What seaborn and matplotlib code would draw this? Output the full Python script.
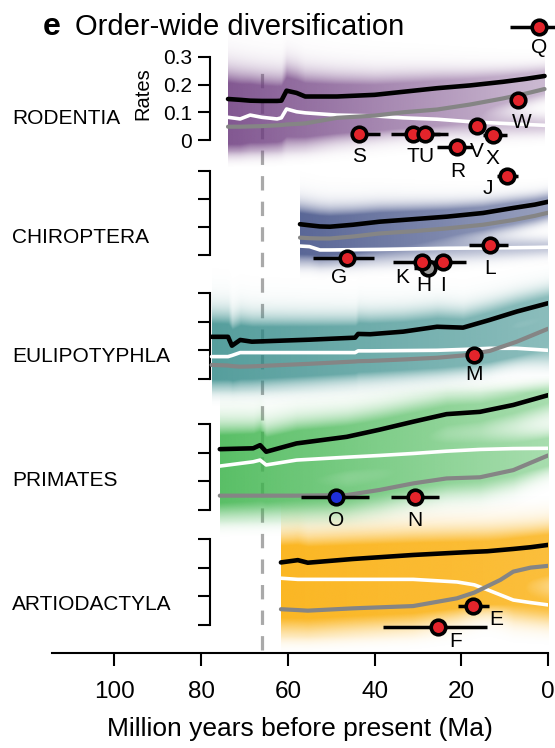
import numpy as np
import matplotlib
matplotlib.use("Agg")
import matplotlib.pyplot as plt
from matplotlib.colors import to_rgb
import seaborn as sns

sns.set_theme(style="white")
plt.rcParams["font.family"] = ["Liberation Sans", "DejaVu Sans"]
plt.rcParams["text.color"] = "black"
plt.rcParams["axes.labelcolor"] = "black"
plt.rcParams["xtick.color"] = "black"
plt.rcParams["ytick.color"] = "black"

# ------------------------------------------------------------------ data
x_ticks = [100, 80, 60, 40, 20, 0]
rate_ticks = [0, 0.1, 0.2, 0.3]
kpg_age = 66.0

# Rodentia: speciation (black), net diversification (white), extinction (grey)
rod_ages = [73.8, 71.0, 68.7, 66.0, 62.5, 61.5, 60.3, 58.0, 56.0, 48.7, 40.0, 33.4, 25.6, 18.0, 10.4, 5.0, 0.8]
rod_spec = [0.148, 0.145, 0.142, 0.141, 0.141, 0.142, 0.178, 0.170, 0.157, 0.157, 0.163, 0.174, 0.187, 0.197, 0.210, 0.221, 0.231]
rod_net = [0.082, 0.076, 0.090, 0.082, 0.076, 0.080, 0.112, 0.102, 0.098, 0.090, 0.087, 0.080, 0.075, 0.066, 0.060, 0.056, 0.053]
rod_ext = [0.048, 0.048, 0.049, 0.050, 0.053, 0.054, 0.056, 0.058, 0.060, 0.080, 0.088, 0.100, 0.110, 0.128, 0.150, 0.168, 0.184]

chi_ages = [57.2, 55.0, 52.6, 50.3, 45.0, 38.8, 31.0, 23.3, 15.0, 8.0, 3.0, 0.0]
chi_spec = [0.110, 0.106, 0.102, 0.101, 0.108, 0.119, 0.128, 0.137, 0.150, 0.168, 0.180, 0.190]
chi_net = [0.032, 0.030, 0.018, 0.018, 0.019, 0.020, 0.022, 0.024, 0.025, 0.026, 0.027, 0.028]
chi_ext = [0.062, 0.060, 0.059, 0.059, 0.066, 0.077, 0.085, 0.095, 0.108, 0.125, 0.140, 0.151]

eul_ages = [77.6, 73.8, 72.9, 71.0, 68.3, 55.0, 44.5, 43.8, 41.0, 33.4, 25.6, 19.6, 13.4, 7.2, 0.0]
eul_spec = [0.147, 0.147, 0.116, 0.136, 0.130, 0.137, 0.144, 0.157, 0.156, 0.165, 0.182, 0.179, 0.206, 0.235, 0.264]
eul_net = [0.078, 0.078, 0.082, 0.092, 0.092, 0.092, 0.092, 0.098, 0.098, 0.099, 0.100, 0.103, 0.107, 0.107, 0.100]
eul_ext = [0.049, 0.047, 0.045, 0.043, 0.044, 0.053, 0.061, 0.062, 0.063, 0.068, 0.074, 0.082, 0.098, 0.130, 0.175]

pri_ages = [75.7, 68.0, 66.4, 65.0, 58.0, 46.4, 38.8, 31.0, 23.4, 15.7, 8.0, 0.0]
pri_spec = [0.212, 0.215, 0.226, 0.203, 0.232, 0.255, 0.280, 0.308, 0.334, 0.342, 0.366, 0.400]
pri_net = [0.153, 0.168, 0.174, 0.157, 0.174, 0.184, 0.190, 0.197, 0.205, 0.211, 0.214, 0.215]
pri_ext = [0.050, 0.050, 0.050, 0.050, 0.050, 0.052, 0.070, 0.093, 0.110, 0.114, 0.139, 0.190]

art_ages = [61.6, 57.7, 55.4, 45.0, 31.1, 21.0, 17.0, 14.0, 11.0, 8.0, 4.0, 0.0]
art_spec = [0.218, 0.226, 0.217, 0.230, 0.244, 0.252, 0.255, 0.257, 0.261, 0.265, 0.271, 0.279]
art_net = [0.163, 0.159, 0.159, 0.159, 0.159, 0.150, 0.140, 0.123, 0.105, 0.087, 0.078, 0.070]
art_ext = [0.055, 0.052, 0.050, 0.058, 0.066, 0.093, 0.113, 0.135, 0.157, 0.186, 0.200, 0.206]

# Point estimates from other studies: label, age, rate, age interval (young, old)
rod_pt_lab = ["Q", "W", "S", "T", "U", "R", "V", "X", "J"]
rod_pt_age = [2.0, 6.85, 43.5, 31.1, 28.4, 20.9, 16.3, 12.8, 9.4]
rod_pt_rate = [0.409, 0.144, 0.022, 0.022, 0.022, -0.024, 0.050, 0.018, -0.130]
rod_pt_young = [-1.6, 6.85, 38.8, 25.0, 23.1, 17.3, 16.3, 9.5, 7.0]
rod_pt_old = [8.8, 6.85, 43.5, 36.2, 33.0, 25.7, 16.3, 15.0, 11.8]

chi_pt_lab = ["H", "G", "K", "I", "L"]
chi_pt_age = [27.6, 46.4, 29.1, 24.2, 13.4]
chi_pt_rate = [-0.045, -0.010, -0.024, -0.024, 0.036]
chi_pt_young = [27.6, 40.1, 25.8, 18.8, 9.2]
chi_pt_old = [31.0, 54.1, 35.8, 28.8, 18.2]

eul_pt_lab = ["M"]
eul_pt_age = [17.0]
eul_pt_rate = [0.084]
eul_pt_young = [17.0]
eul_pt_old = [17.0]

pri_pt_lab = ["O", "N"]
pri_pt_age = [48.9, 30.7]
pri_pt_rate = [0.044, 0.044]
pri_pt_young = [41.3, 25.2]
pri_pt_old = [56.9, 36.2]

art_pt_lab = ["E", "F"]
art_pt_age = [17.2, 25.3]
art_pt_rate = [0.066, -0.008]
art_pt_young = [13.7, 14.0]
art_pt_old = [20.7, 38.0]

# ------------------------------------------------------------------ style
W, H = 555, 748
AX_X0, AX_X1 = 52, 548
AGE_LEFT = 114.4
SPINE_AGE = 78.0

point_fill = {"H": "#9b9b9b", "O": "#1f2fd8"}
label_shift = {  # pixel offsets of the letter from its point (right, down)
    "Q": (0, 21), "W": (3, 22), "S": (0, 23), "T": (0, 23), "U": (1, 23),
    "R": (0, 25), "V": (0, 25), "X": (0, 23), "J": (-19, 12),
    "G": (-8, 20), "K": (-20, 16), "H": (-5, 18), "I": (0, 24), "L": (0, 24),
    "M": (0, 20), "O": (0, 23), "N": (0, 23), "E": (23, 13), "F": (17, 14),
}

panels = [
    dict(name="RODENTIA", color="#6c3a7e", y0=140, s=277, label_y=118,
         ages=rod_ages, spec=rod_spec, net=rod_net, ext=rod_ext,
         pts=(rod_pt_lab, rod_pt_age, rod_pt_rate, rod_pt_young, rod_pt_old),
         sig=(0.065, 0.025), amax=(0.85, 0.35), wnet=0.8, haze=0.2),
    dict(name="CHIROPTERA", color="#30407c", y0=255, s=280, label_y=237,
         ages=chi_ages, spec=chi_spec, net=chi_net, ext=chi_ext,
         pts=(chi_pt_lab, chi_pt_age, chi_pt_rate, chi_pt_young, chi_pt_old),
         sig=(0.045, 0.022), amax=(0.8, 0.5), wnet=0.6, haze=0.15),
    dict(name="EULIPOTYPHLA", color="#2b8684", y0=379, s=287, label_y=357,
         ages=eul_ages, spec=eul_spec, net=eul_net, ext=eul_ext,
         pts=(eul_pt_lab, eul_pt_age, eul_pt_rate, eul_pt_young, eul_pt_old),
         sig=(0.055, 0.035), amax=(0.8, 0.55), wnet=0.8, haze=0.2),
    dict(name="PRIMATES", color="#3cb44b", y0=510, s=287, label_y=480,
         ages=pri_ages, spec=pri_spec, net=pri_net, ext=pri_ext,
         pts=(pri_pt_lab, pri_pt_age, pri_pt_rate, pri_pt_young, pri_pt_old),
         sig=(0.055, 0.04), amax=(0.85, 0.45), wnet=1.0, haze=0.2),
    dict(name="ARTIODACTYLA", color="#fbb318", y0=625, s=287, label_y=605,
         ages=art_ages, spec=art_spec, net=art_net, ext=art_ext,
         pts=(art_pt_lab, art_pt_age, art_pt_rate, art_pt_young, art_pt_old),
         sig=(0.06, 0.045), amax=(0.95, 0.85), wnet=1.0, haze=0.25),
]


def px_rect(x0, y0, x1, y1):
    return [x0 / W, 1 - y1 / H, (x1 - x0) / W, (y1 - y0) / H]


def density_rgba(p, r_grid):
    ages = np.asarray(p["ages"], float)
    t = np.linspace(ages[0], ages[-1], 480)
    xp = ages[::-1]
    sp = np.interp(t, xp, np.asarray(p["spec"])[::-1])
    nt = np.interp(t, xp, np.asarray(p["net"])[::-1])
    ex = np.interp(t, xp, np.asarray(p["ext"])[::-1])
    frac = (t - ages[-1]) / (ages[0] - ages[-1])
    s = p["sig"][1] + (p["sig"][0] - p["sig"][1]) * frac
    a = p["amax"][1] + (p["amax"][0] - p["amax"][1]) * frac
    R = r_grid[:, None]

    def bump(c, w):
        return np.exp(-0.5 * ((R - c) / w) ** 2)

    dens = bump(sp, s) + bump(ex, s) + p["wnet"] * bump(nt, s) + p["haze"] * bump(sp, 1.6 * s)
    # fade out towards the ends of the rate grid
    span = 0.06
    taper = np.clip((R - r_grid[0]) / span, 0, 1) * np.clip((r_grid[-1] - R) / span, 0, 1)
    rgba = np.zeros((len(r_grid), len(t), 4))
    rgba[..., :3] = to_rgb(p["color"])
    rgba[..., 3] = a * np.clip(dens, 0, 1) * taper
    return rgba


fig = plt.figure(figsize=(W / 100, H / 100), dpi=100)

# shared time axis with the K-Pg boundary
base = fig.add_axes(px_rect(AX_X0, 60, AX_X1, 653), zorder=0)
base.set_xlim(AGE_LEFT, 0)
base.set_ylim(0, 1)
base.patch.set_visible(False)
for sp in ("left", "right", "top"):
    base.spines[sp].set_visible(False)
base.spines["bottom"].set_color("black")
base.spines["bottom"].set_linewidth(1.5)
base.set_yticks([])
base.set_xticks(x_ticks)
base.set_xticklabels([str(v) for v in x_ticks], fontsize=17.5)
base.tick_params(axis="x", bottom=True, length=9.5, width=1.5, pad=11, color="black")
base.set_xlabel("Million years before present (Ma)", fontsize=19, labelpad=10)
base.axvline(kpg_age, ymin=0.005, ymax=0.99, color="#a9a9a9", lw=2.3,
             ls=(0, (4.5, 3.5)), zorder=0)

r_grid = np.linspace(-0.1, 0.47, 380)
for i, p in enumerate(panels):
    lo, hi = -0.3, 0.5
    ax = fig.add_axes(px_rect(AX_X0, p["y0"] - hi * p["s"], AX_X1, p["y0"] - lo * p["s"]),
                      zorder=10 - i)
    ax.patch.set_visible(False)

    ax.imshow(density_rgba(p, r_grid), extent=[p["ages"][0], p["ages"][-1], r_grid[0], r_grid[-1]],
              origin="lower", aspect="auto", interpolation="bilinear", zorder=1)

    sns.lineplot(x=p["ages"], y=p["net"], ax=ax, color="white", linewidth=2.6,
                 estimator=None, sort=False, legend=False, zorder=3)
    sns.lineplot(x=p["ages"], y=p["ext"], ax=ax, color="#858585", linewidth=3.0,
                 estimator=None, sort=False, legend=False, zorder=3)
    sns.lineplot(x=p["ages"], y=p["spec"], ax=ax, color="black", linewidth=3.3,
                 estimator=None, sort=False, legend=False, zorder=3)

    labs, ages_pt, rates_pt, young, old = p["pts"]
    for lab, a, r, yg, od in zip(labs, ages_pt, rates_pt, young, old):
        cont = ax.errorbar([a], [r], xerr=[[a - yg], [od - a]], fmt="o", ms=10.5,
                           mfc=point_fill.get(lab, "#e3242b"), mec="black", mew=2.6,
                           ecolor="black", elinewidth=2.5, capsize=0, zorder=5)
        for art in cont.get_children():
            art.set_clip_on(False)
        dx, dy = label_shift[lab]
        ax.annotate(lab, (a, r), xytext=(dx * 0.72, -dy * 0.72), textcoords="offset points",
                    ha="center", va="center", fontsize=15, zorder=6, annotation_clip=False)

    ax.set_xlim(AGE_LEFT, 0)
    ax.set_ylim(lo, hi)
    ax.set_xlabel("")
    ax.set_ylabel("")
    for sp in ("right", "top", "bottom"):
        ax.spines[sp].set_visible(False)
    ax.spines["left"].set_color("black")
    ax.spines["left"].set_linewidth(1.5)
    ax.spines["left"].set_position(("data", SPINE_AGE))
    ax.spines["left"].set_bounds(0, 0.3)
    ax.set_xticks([])
    ax.set_yticks(rate_ticks)
    ax.tick_params(axis="y", left=True, length=8.6, width=1.5, pad=4, color="black")
    if i == 0:
        ax.set_yticklabels(["0", "0.1", "0.2", "0.3"], fontsize=15)
    else:
        ax.set_yticklabels([])

    fig.text(12 / W, 1 - p["label_y"] / H, p["name"], fontsize=15, ha="left", va="center")

fig.text(143 / W, 1 - 94 / H, "Rates", fontsize=14.5, rotation=90, ha="center", va="center")
fig.text(43 / W, 1 - 35 / H, "e", fontsize=23, fontweight="bold", ha="left", va="baseline")
fig.text(75 / W, 1 - 35 / H, "Order-wide diversification", fontsize=21, ha="left", va="baseline")

fig.savefig("out.png", dpi=100)
